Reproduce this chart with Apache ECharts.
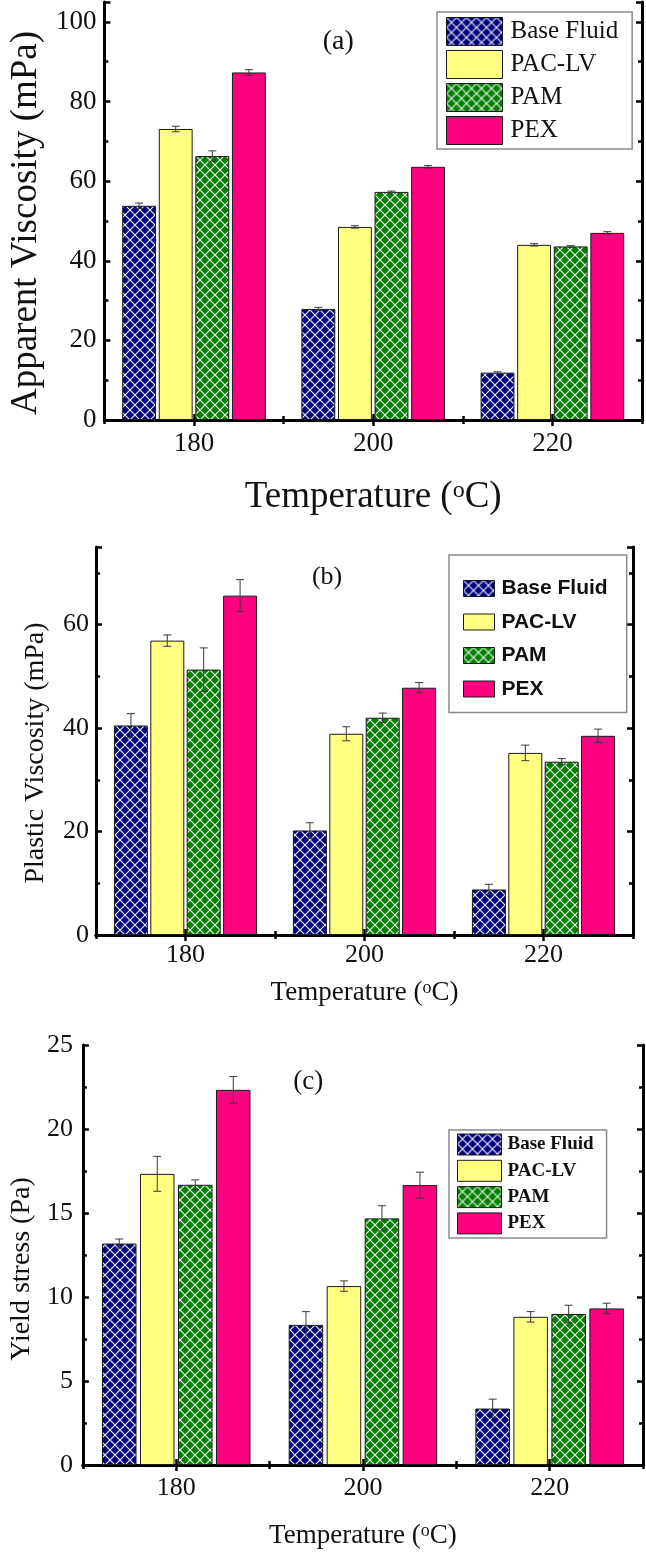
<!DOCTYPE html>
<html><head><meta charset="utf-8">
<script src="https://cdn.jsdelivr.net/npm/echarts@6/dist/echarts.min.js"></script>
<style>html,body{margin:0;padding:0;background:#fff}#c{width:646px;height:1553px}</style>
</head><body><div id="c"></div>
<script>
// ---------- data ----------
const categories = ['180', '200', '220'];
const seriesNames = ['Base Fluid', 'PAC-LV', 'PAM', 'PEX'];

// (a) Apparent Viscosity (mPa)
const avBase = [53.8, 27.9, 11.9];
const avPAC  = [73.1, 48.5, 44.0];
const avPAM  = [66.3, 57.3, 43.6];
const avPEX  = [87.3, 63.6, 47.0];
const avBaseErr = [0.7, 0.4, 0.2];
const avPACErr  = [0.7, 0.3, 0.3];
const avPAMErr  = [1.3, 0.2, 0.2];
const avPEXErr  = [0.7, 0.3, 0.3];

// (b) Plastic Viscosity (mPa)
const pvBase = [40.5, 20.2, 8.8];
const pvPAC  = [56.9, 38.9, 35.2];
const pvPAM  = [51.3, 42.0, 33.5];
const pvPEX  = [65.6, 47.8, 38.5];
const pvBaseErr = [2.3, 1.5, 1.0];
const pvPACErr  = [1.1, 1.35, 1.5];
const pvPAMErr  = [4.2, 0.9, 0.6];
const pvPEXErr  = [3.1, 1.0, 1.3];

// (c) Yield stress (Pa)
const ysBase = [13.18, 8.34, 3.36];
const ysPAC  = [17.33, 10.65, 8.82];
const ysPAM  = [16.68, 14.68, 8.99];
const ysPEX  = [22.33, 16.66, 9.32];
const ysBaseErr = [0.27, 0.79, 0.56];
const ysPACErr  = [1.04, 0.31, 0.31];
const ysPAMErr  = [0.29, 0.75, 0.52];
const ysPEXErr  = [0.79, 0.77, 0.31];

// axis ranges / tick steps
const yRangeA = [0, 105], yStepA = [20, 10];
const yRangeB = [0, 75],  yStepB = [20, 10];
const yRangeC = [0, 25],  yStepC = [5, 2.5];
const panelLabels = ['(a)', '(b)', '(c)'];
const yTitles = ['Apparent Viscosity (mPa)', 'Plastic Viscosity (mPa)', 'Yield stress (Pa)'];
const xTitle = 'Temperature ({s|o}C)';

// ---------- styles ----------
const SERIF = '"Liberation Serif", "Times New Roman", serif';
const SANS = '"Liberation Sans", Arial, sans-serif';

function hatch(bg) {
  const s = 10, c = document.createElement('canvas');
  c.width = s; c.height = s;
  const g = c.getContext('2d');
  g.fillStyle = bg; g.fillRect(0, 0, s, s);
  g.strokeStyle = 'rgba(255,255,255,0.92)'; g.lineWidth = 1.2;
  g.beginPath(); g.moveTo(0, 0); g.lineTo(s, s); g.moveTo(s, 0); g.lineTo(0, s); g.stroke();
  return { image: c, repeat: 'repeat' };
}
const fills = [hatch('#00007f'), '#ffff80', hatch('#007f00'), '#ff0080'];

const panels = [
  { vals: [avBase, avPAC, avPAM, avPEX], errs: [avBaseErr, avPACErr, avPAMErr, avPEXErr],
    range: yRangeA, step: yStepA,
    grid: { left: 93, top: 2, width: 549, height: 418 },
    barW: 0.189, barGap: 0.08, tickFont: 27, yLabelMargin: 8, xLabelMargin: 10,
    xNameFont: 37, xNameGap: 59, yNameFont: 37, yNameGap: 55, yShift: 12,
    label: { x: 339, y: 43, size: 28 } },
  { vals: [pvBase, pvPAC, pvPAM, pvPEX], errs: [pvBaseErr, pvPACErr, pvPAMErr, pvPEXErr],
    range: yRangeB, step: yStepB,
    grid: { left: 96, top: 547, width: 537, height: 388 },
    barW: 0.19, barGap: 0.07, tickFont: 26, yLabelMargin: 7, xLabelMargin: 7,
    xNameFont: 27, xNameGap: 44, yNameFont: 28, yNameGap: 46, yShift: 12,
    label: { x: 327, y: 578, size: 26 } },
  { vals: [ysBase, ysPAC, ysPAM, ysPEX], errs: [ysBaseErr, ysPACErr, ysPAMErr, ysPEXErr],
    range: yRangeC, step: yStepC,
    grid: { left: 75, top: 1045, width: 568, height: 420 },
    barW: 0.185, barGap: 0.1, tickFont: 26, yLabelMargin: 10, xLabelMargin: 10,
    xNameFont: 27, xNameGap: 57, yNameFont: 28, yNameGap: 45, yShift: 14,
    label: { x: 309, y: 1083, size: 27 } }
];

const grids = [], xAxes = [], yAxes = [], series = [], graphics = [];
const frameLine = { show: true, lineStyle: { color: '#000', width: 3 } };
const tickStyle = { color: '#000', width: 2.5 };

function errRender(ratio, gapRatio) {
  return function (params, api) {
    const cat = api.value(0), si = api.value(1), v = api.value(2), e = api.value(3);
    const band = api.size([1, 0])[0];
    const bw = band * ratio, pitch = bw * (1 + gapRatio);
    const cx = api.coord([cat, v])[0] + (si - 1.5) * pitch;
    const yt = api.coord([cat, v + e])[1], yb = api.coord([cat, v - e])[1];
    const cap = 4, st = { stroke: '#3a3a3a', lineWidth: 1 };
    return { type: 'group', children: [
      { type: 'line', shape: { x1: cx, y1: yt, x2: cx, y2: yb }, style: st },
      { type: 'line', shape: { x1: cx - cap, y1: yt, x2: cx + cap, y2: yt }, style: st },
      { type: 'line', shape: { x1: cx - cap, y1: yb, x2: cx + cap, y2: yb }, style: st }
    ] };
  };
}

panels.forEach((p, gi) => {
  grids.push(p.grid);
  const xi = xAxes.length, yi = yAxes.length;
  const catBase = { type: 'category', data: categories, gridIndex: gi, boundaryGap: true };
  xAxes.push(Object.assign({}, catBase, {
    position: 'bottom', axisLine: frameLine,
    axisTick: { show: true, inside: true, alignWithLabel: true, length: 6, lineStyle: tickStyle },
    axisLabel: { fontFamily: SERIF, fontSize: p.tickFont, color: '#111', margin: p.xLabelMargin },
    name: xTitle, nameLocation: 'middle', nameGap: p.xNameGap,
    nameTextStyle: { fontFamily: SERIF, fontSize: p.xNameFont, color: '#111',
      rich: { s: { fontFamily: SERIF, fontSize: Math.round(p.xNameFont * 0.66), color: '#111', verticalAlign: 'top' } } }
  }));
  xAxes.push(Object.assign({}, catBase, {
    position: 'bottom', axisLine: { show: false },
    axisTick: { show: true, inside: true, alignWithLabel: false, length: 4, lineStyle: tickStyle },
    axisLabel: { show: false }
  }));
  xAxes.push(Object.assign({}, catBase, {
    position: 'top', axisLine: frameLine,
    axisTick: { show: true, inside: true, alignWithLabel: true, length: 6, lineStyle: tickStyle },
    axisLabel: { show: false }
  }));
  xAxes.push(Object.assign({}, catBase, {
    position: 'top', axisLine: { show: false },
    axisTick: { show: true, inside: true, alignWithLabel: false, length: 4, lineStyle: tickStyle },
    axisLabel: { show: false }
  }));
  const major = p.step[0], minor = p.step[1];
  const valBase = { type: 'value', gridIndex: gi, min: p.range[0], max: p.range[1], splitLine: { show: false } };
  yAxes.push(Object.assign({}, valBase, {
    position: 'left', interval: major, axisLine: frameLine,
    axisTick: { show: true, inside: true, length: 6, lineStyle: tickStyle },
    axisLabel: { fontFamily: SERIF, fontSize: p.tickFont, color: '#111', margin: p.yLabelMargin,
      formatter: v => (Math.abs(v / major - Math.round(v / major)) < 1e-6 ? String(v) : '') },
    name: yTitles[gi], nameLocation: 'middle', nameGap: p.yNameGap,
    nameTextStyle: { fontFamily: SERIF, fontSize: p.yNameFont, color: '#111', padding: [0, p.yShift * 2, 0, 0] }
  }));
  yAxes.push(Object.assign({}, valBase, {
    position: 'left', interval: minor, axisLine: { show: false },
    axisTick: { show: true, inside: true, length: 4, lineStyle: tickStyle },
    axisLabel: { show: false }
  }));
  yAxes.push(Object.assign({}, valBase, {
    position: 'right', interval: major, axisLine: frameLine,
    axisTick: { show: true, inside: true, length: 6, lineStyle: tickStyle },
    axisLabel: { show: false }
  }));
  yAxes.push(Object.assign({}, valBase, {
    position: 'right', interval: minor, axisLine: { show: false },
    axisTick: { show: true, inside: true, length: 4, lineStyle: tickStyle },
    axisLabel: { show: false }
  }));

  const errData = [];
  seriesNames.forEach((nm, si) => {
    series.push({
      type: 'bar', name: nm, xAxisIndex: xi, yAxisIndex: yi,
      data: p.vals[si],
      barWidth: (p.barW * 100).toFixed(2) + '%', barGap: (p.barGap * 100) + '%',
      itemStyle: { color: fills[si], borderColor: '#1a1a1a', borderWidth: 1 },
      emphasis: { disabled: true }, z: 2
    });
    p.vals[si].forEach((v, ci) => errData.push([ci, si, v, p.errs[si][ci]]));
  });
  series.push({
    type: 'custom', name: 'err' + gi, xAxisIndex: xi, yAxisIndex: yi,
    renderItem: errRender(p.barW, p.barGap), encode: { x: 0, y: 2 },
    data: errData, z: 5, silent: true
  });
  graphics.push({ type: 'text', left: p.label.x - p.label.size * 0.58, top: p.label.y - p.label.size * 0.55,
    style: { text: panelLabels[gi], fontFamily: SERIF, fontSize: p.label.size, fill: '#111' } });
});

const legends = [
  { orient: 'vertical', left: 437, top: 12, padding: [5, 14, 4, 9],
    itemWidth: 56, itemHeight: 28, itemGap: 4,
    textStyle: { fontFamily: SERIF, fontSize: 25, color: '#111', lineHeight: 28, padding: [0, 0, 0, 3] } },
  { orient: 'vertical', left: 449, top: 555, padding: [23, 19, 13, 14],
    itemWidth: 31, itemHeight: 16, itemGap: 12.5,
    textStyle: { fontFamily: SANS, fontWeight: 'bold', fontSize: 21, color: '#111', lineHeight: 16, padding: [0, 0, 0, 2] } },
  { orient: 'vertical', left: 449, top: 1130, padding: [3.5, 13, 3.5, 8],
    itemWidth: 44, itemHeight: 21, itemGap: 4.3,
    textStyle: { fontFamily: SERIF, fontWeight: 'bold', fontSize: 19, color: '#111', lineHeight: 21, padding: [0, 0, 0, 1] } }
].map(l => Object.assign({ data: seriesNames, icon: 'rect', selectedMode: false,
  borderColor: '#8a8a8a', borderWidth: 1.5, backgroundColor: '#fff', itemStyle: { borderColor: '#1a1a1a', borderWidth: 1 } }, l));

const chart = echarts.init(document.getElementById('c'), null, { renderer: 'canvas' });
chart.setOption({
  animation: false,
  backgroundColor: '#fff',
  grid: grids, xAxis: xAxes, yAxis: yAxes, series: series,
  legend: legends, graphic: graphics
});
</script></body></html>
